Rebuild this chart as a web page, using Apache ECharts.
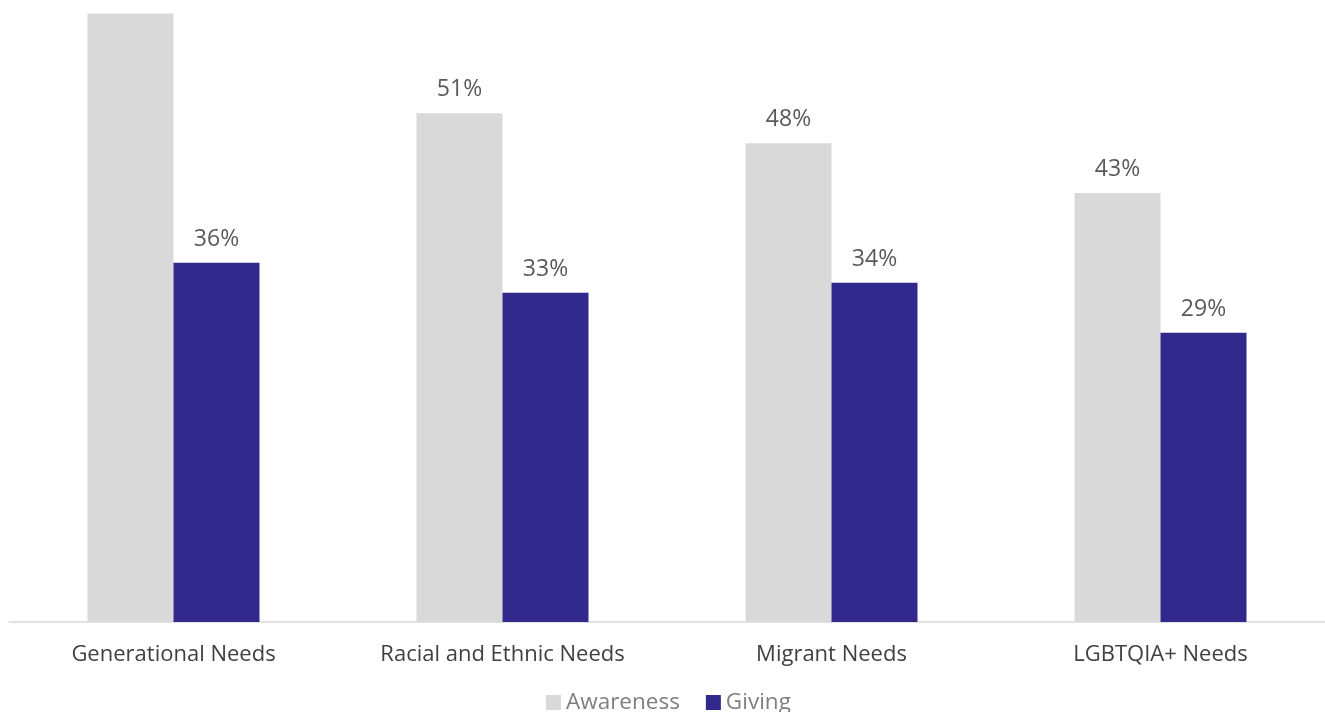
<!DOCTYPE html>
<html><head><meta charset="utf-8">
<script src="https://cdn.jsdelivr.net/npm/echarts@6/dist/echarts.min.js"></script>
<style>html,body{margin:0;padding:0;background:#fff}#c{width:1325px;height:712px}</style>
</head><body><div id="c"></div>
<script>
var categories = ["Generational Needs", "Racial and Ethnic Needs", "Migrant Needs", "LGBTQIA+ Needs"];
var awareness = [61, 51, 48, 43];
var giving = [36, 33, 34, 29];
var seriesNames = ["Awareness", "Giving"];

var chart = echarts.init(document.getElementById('c'));
var font = 'Open Sans';
chart.setOption({
  animation: false,
  legend: {
    bottom: -7, left: 541,
    itemWidth: 15, itemHeight: 15, itemGap: 26,
    icon: 'rect',
    textStyle: {fontFamily: font, fontSize: 22.5, color: '#7f7f7f'},
    data: seriesNames
  },
  grid: {left: 9, right: 0, top: 3.5, bottom: 90, containLabel: false},
  xAxis: {
    type: 'category', data: categories,
    axisLine: {lineStyle: {color: '#d9d9d9', width: 1.5}},
    axisTick: {show: false},
    axisLabel: {fontFamily: font, fontSize: 22, color: '#404040', margin: 22}
  },
  yAxis: {type: 'value', min: 0, max: 62, show: false, splitLine: {show: false}},
  series: [
    {name: seriesNames[0], type: 'bar', data: awareness, barWidth: 86, barGap: '0%',
     itemStyle: {color: '#d9d9d9'},
     label: {show: true, position: 'top', distance: 12, formatter: '{c}%', fontFamily: font, fontSize: 23, color: '#595959'}},
    {name: seriesNames[1], type: 'bar', data: giving, barWidth: 86, barGap: '0%',
     itemStyle: {color: '#312a8c'},
     label: {show: true, position: 'top', distance: 12, formatter: '{c}%', fontFamily: font, fontSize: 23, color: '#595959'}}
  ]
});
</script></body></html>
